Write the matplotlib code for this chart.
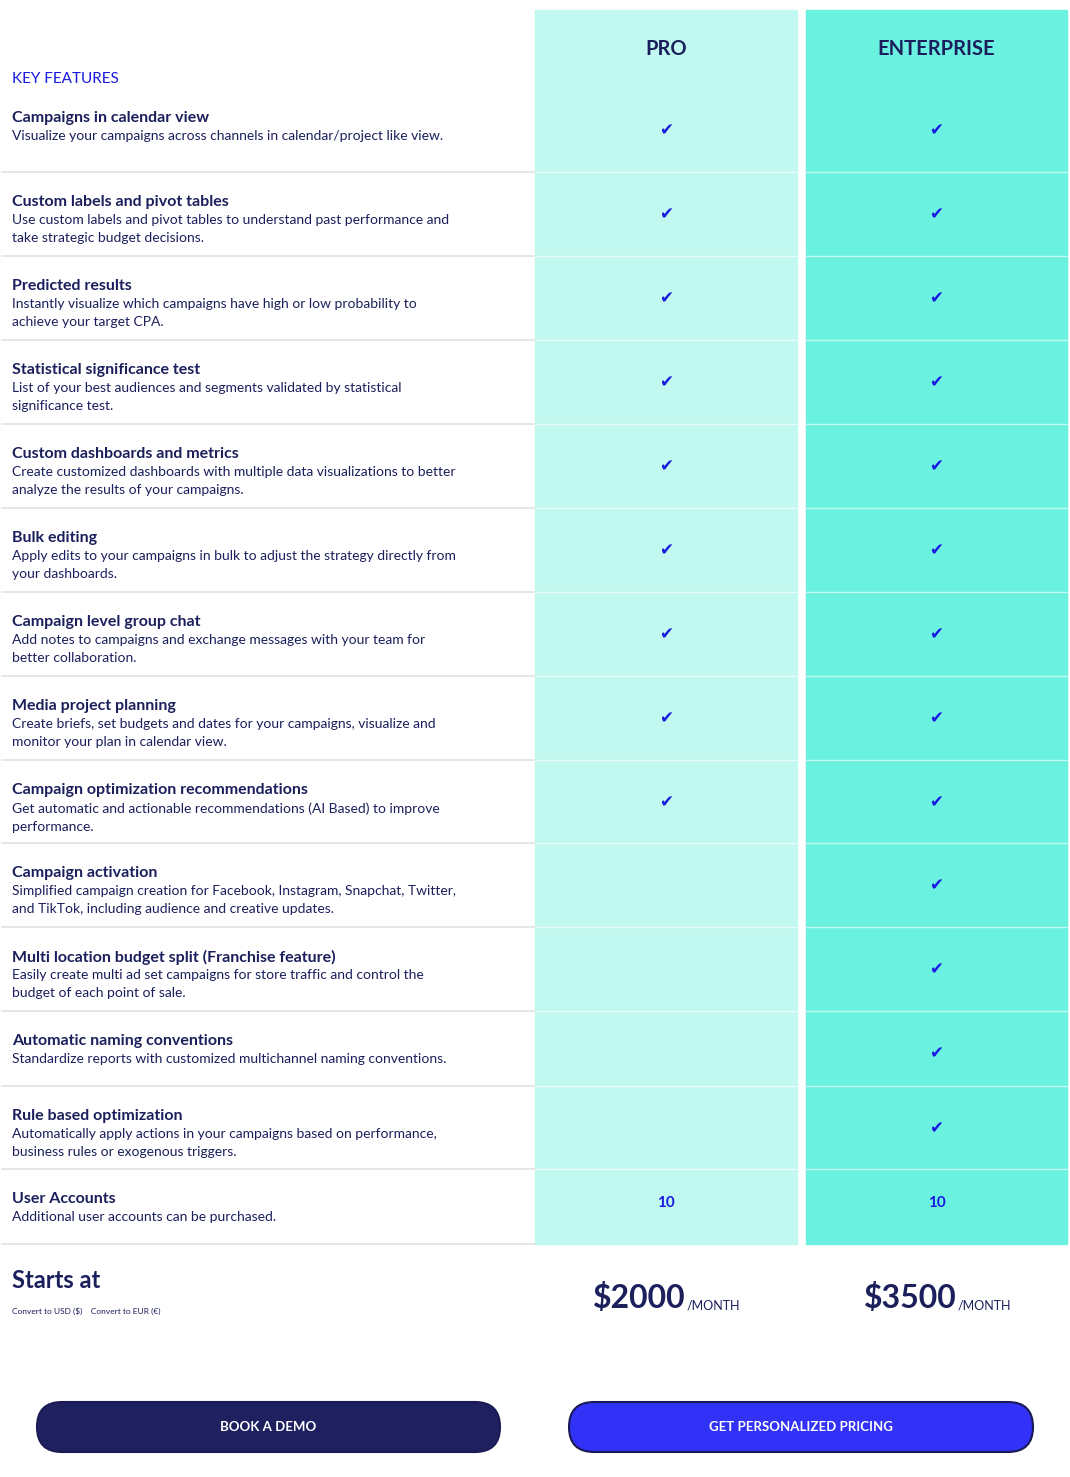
import matplotlib.pyplot as plt
from matplotlib.patches import Rectangle, FancyBboxPatch

# feature rows: title, description, pro value, enterprise value
titles = ["Campaigns in calendar view", "Custom labels and pivot tables", "Predicted results",
          "Statistical significance test", "Custom dashboards and metrics", "Bulk editing",
          "Campaign level group chat", "Media project planning",
          "Campaign optimization recommendations", "Campaign activation",
          "Multi location budget split (Franchise feature)", "Automatic naming conventions",
          "Rule based optimization", "User Accounts"]
descs = ["Visualize your campaigns across channels in calendar/project like view.",
         "Use custom labels and pivot tables to understand past performance and\ntake strategic budget decisions.",
         "Instantly visualize which campaigns have high or low probability to\nachieve your target CPA.",
         "List of your best audiences and segments validated by statistical\nsignificance test.",
         "Create customized dashboards with multiple data visualizations to better\nanalyze the results of your campaigns.",
         "Apply edits to your campaigns in bulk to adjust the strategy directly from\nyour dashboards.",
         "Add notes to campaigns and exchange messages with your team for\nbetter collaboration.",
         "Create briefs, set budgets and dates for your campaigns, visualize and\nmonitor your plan in calendar view.",
         "Get automatic and actionable recommendations (AI Based) to improve\nperformance.",
         "Simplified campaign creation for Facebook, Instagram, Snapchat, Twitter,\nand TikTok, including audience and creative updates.",
         "Easily create multi ad set campaigns for store traffic and control the\nbudget of each point of sale.",
         "Standardize reports with customized multichannel naming conventions.",
         "Automatically apply actions in your campaigns based on performance,\nbusiness rules or exogenous triggers.",
         "Additional user accounts can be purchased."]
pro = ["check"] * 9 + ["", "", "", "", "10"]
ent = ["check"] * 13 + ["10"]
row_bounds = [88, 172, 256, 340, 424, 508, 592, 676, 760, 843, 927, 1011, 1086, 1169, 1244]
plans = ["PRO", "ENTERPRISE"]
prices = ["$2000", "$3500"]

NAVY = "#1b1f5c"
BLUE = "#1a1ae0"
plt.rcParams['font.family'] = ['Lato', 'DejaVu Sans']

fig = plt.figure(figsize=(10.7, 14.77), dpi=100)
ax = fig.add_axes([0, 0, 1, 1])
ax.set_xlim(0, 1070)
ax.set_ylim(1477, 0)
ax.axis('off')

cols = [(535, 797, "#c1f8ef"), (806, 1067, "#6af1e0")]
for x0, x1, c in cols:
    ax.add_patch(Rectangle((x0, 10), x1 - x0, 1234, color=c, zorder=0))
for name, (x0, x1, c) in zip(plans, cols):
    ax.text((x0 + x1) / 2, 49, name, ha='center', va='center', fontsize=14.5,
            fontweight='bold', color=NAVY)

ax.text(12, 79, "KEY FEATURES", ha='left', va='center', fontsize=11, color=BLUE)

for i, (t, d) in enumerate(zip(titles, descs)):
    top, bot = row_bounds[i], row_bounds[i + 1]
    ax.text(12, top + 30, t, ha='left', va='center', fontsize=11.5, fontweight='bold', color=NAVY)
    ax.text(12, top + 42, d, ha='left', va='top', fontsize=10, color=NAVY, linespacing=1.6)
    ax.plot([2, 535], [bot, bot], color="#e2e2e2", lw=1.2, zorder=1)
    if i < len(titles) - 1:
        for x0, x1, c in cols:
            ax.plot([x0, x1], [bot, bot], color="white", lw=1, alpha=0.6, zorder=1)
    for val, (x0, x1, c) in zip([pro[i], ent[i]], cols):
        if val == "check":
            ax.text((x0 + x1) / 2, top + 42, "\u2714", ha='center', va='center', fontsize=12,
                    color=BLUE, family='DejaVu Sans')
        elif val:
            ax.text((x0 + x1) / 2, top + 34, val, ha='center', va='center', fontsize=11,
                    fontweight='bold', color=BLUE)

ax.text(12, 1280, "Starts at", ha='left', va='center', fontsize=17, fontweight='bold', color=NAVY)
ax.text(12, 1311, "Convert to USD ($)    Convert to EUR (\u20ac)", ha='left', va='center',
        fontsize=6, color=NAVY)
for p, (x0, x1, c) in zip(prices, cols):
    cx = (x0 + x1) / 2
    ax.text(cx + 20, 1298, p, ha='right', va='center', fontsize=23, fontweight='bold', color=NAVY)
    ax.text(cx + 21, 1305, "/MONTH", ha='left', va='center', fontsize=9, color=NAVY)

buttons = [(12, 525, "#1f2060", "BOOK A DEMO"), (544, 1058, "#3131f7", "GET PERSONALIZED PRICING")]
for x0, x1, c, lab in buttons:
    ax.add_patch(FancyBboxPatch((x0 + 25, 1402), x1 - x0 - 50, 50,
                                boxstyle="round,pad=0,rounding_size=25", fc=c, ec="#1a1a55", lw=1.5,
                                mutation_aspect=1))
    ax.text((x0 + x1) / 2, 1427, lab, ha='center', va='center', fontsize=9.5,
            fontweight='bold', color='white')

fig.savefig("out.png", dpi=100, facecolor='white')
